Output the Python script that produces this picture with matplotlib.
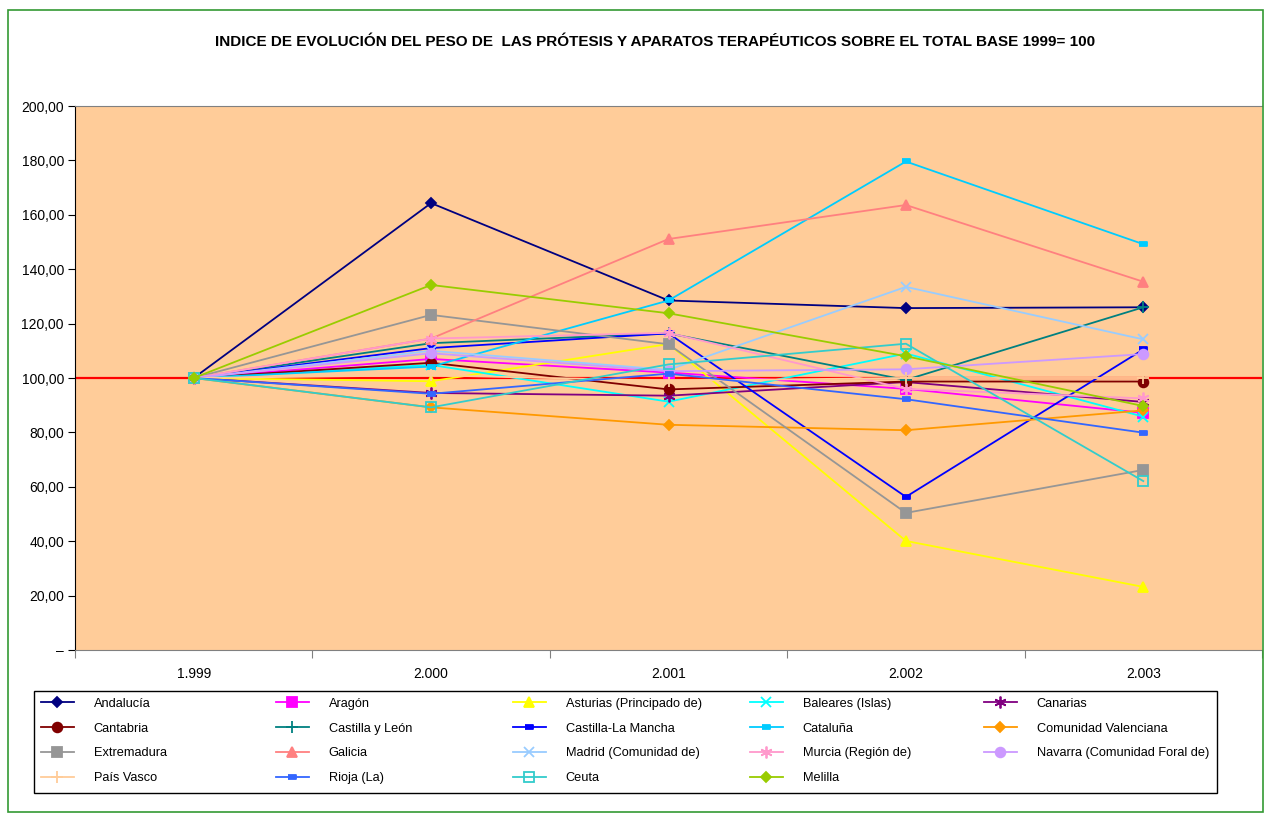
import matplotlib
matplotlib.use("Agg")
import matplotlib.pyplot as plt
from matplotlib.patches import Rectangle

plt.rcParams['font.family'] = ['Liberation Sans', 'DejaVu Sans']

# datos (indice base 1999 = 100)
years = ["1.999", "2.000", "2.001", "2.002", "2.003"]

andalucia = [100, 164.3, 128.5, 125.7, 126.0]
aragon = [100, 107.0, 102.0, 96.0, 87.2]
asturias = [100, 98.8, 112.5, 40.1, 23.2]
baleares = [100, 104.8, 91.3, 109.0, 85.8]
canarias = [100, 94.5, 93.5, 98.5, 91.2]
cantabria = [100, 105.6, 95.8, 98.7, 98.7]
castilla_leon = [100, 112.8, 116.4, 99.3, 126.0]
castilla_mancha = [100, 111.0, 116.4, 56.3, 110.5]
cataluna = [100, 104.2, 128.5, 179.6, 149.2]
valenciana = [100, 89.2, 82.8, 80.8, 88.1]
extremadura = [100, 123.2, 112.4, 50.4, 66.2]
galicia = [100, 114.5, 151.1, 163.6, 135.4]
madrid = [100, 110.0, 103.0, 133.5, 114.2]
murcia = [100, 114.5, 116.6, 96.0, 92.5]
navarra = [100, 109.1, 102.5, 103.2, 108.8]
pais_vasco = [100, 101.0, 99.0, 100.0, 100.0]
rioja = [100, 94.2, 101.6, 92.2, 79.9]
ceuta = [100, 89.2, 105.0, 112.6, 62.1]
melilla = [100, 134.2, 123.8, 108.0, 89.7]

series = [
    ("Andalucía", andalucia),
    ("Aragón", aragon),
    ("Asturias (Principado de)", asturias),
    ("Baleares (Islas)", baleares),
    ("Canarias", canarias),
    ("Cantabria", cantabria),
    ("Castilla y León", castilla_leon),
    ("Castilla-La Mancha", castilla_mancha),
    ("Cataluña", cataluna),
    ("Comunidad Valenciana", valenciana),
    ("Extremadura", extremadura),
    ("Galicia", galicia),
    ("Madrid (Comunidad de)", madrid),
    ("Murcia (Región de)", murcia),
    ("Navarra (Comunidad Foral de)", navarra),
    ("País Vasco", pais_vasco),
    ("Rioja (La)", rioja),
    ("Ceuta", ceuta),
    ("Melilla", melilla),
]

dash = [(-1, -0.45), (1, -0.45), (1, 0.45), (-1, 0.45)]
star = (6, 2, 0)
# color, marcador, tamaño, relleno
styles = [
    ("#000080", "D", 5.5, None),
    ("#FF00FF", "s", 6.5, None),
    ("#FFFF00", "^", 7.5, None),
    ("#00FFFF", "x", 7.5, None),
    ("#800080", star, 8.5, None),
    ("#800000", "o", 7, None),
    ("#008080", "+", 8.5, None),
    ("#0000FF", dash, 5.5, None),
    ("#00CCFF", dash, 5.5, None),
    ("#FF9900", "D", 5.5, None),
    ("#969696", "s", 6.5, None),
    ("#FF8080", "^", 7.5, None),
    ("#99CCFF", "x", 7.5, None),
    ("#FF99CC", star, 8.5, None),
    ("#CC99FF", "o", 7, None),
    ("#FFCC99", "+", 8.5, None),
    ("#3366FF", dash, 5.5, None),
    ("#33CCCC", "s", 6.5, "none"),
    ("#99CC00", "D", 5.5, None),
]

fig = plt.figure(figsize=(12.65, 8.18), dpi=100)
W, H = 1265, 818

# borde verde exterior
fig.patches.append(Rectangle((8 / W, 1 - 812 / H), 1255 / W, 802 / H,
                             transform=fig.transFigure, fill=False,
                             edgecolor="#339933", lw=1.2))

ax = fig.add_axes([75 / W, 1 - 650 / H, 1187 / W, 544 / H])
ax.set_facecolor("#FFCC99")

x = list(range(len(years)))
handles = []
for (name, vals), (col, mk, ms, fc) in zip(series, styles):
    h, = ax.plot(x, vals, color=col, lw=1.3, marker=mk, ms=ms,
                 mfc=col if fc is None else fc, mec=col, mew=1.3,
                 label=name, zorder=3)
    handles.append(h)

ax.axhline(100, color="#FF0000", lw=1.6, zorder=2)

ax.set_xlim(-0.5, len(years) - 0.5)
ax.set_ylim(0, 200)
ax.set_yticks(range(0, 201, 20))
ax.set_yticklabels(["–" if v == 0 else f"{v:.2f}".replace(".", ",")
                    for v in range(0, 201, 20)], fontsize=10)
ax.set_xticks([i - 0.5 for i in range(len(years) + 1)])
ax.set_xticklabels([])
ax.set_xticks(x, minor=True)
ax.set_xticklabels(years, minor=True, fontsize=10)
ax.tick_params(axis="x", which="major", length=6, direction="out", color="#808080")
ax.tick_params(axis="x", which="minor", length=0, pad=12)
ax.tick_params(axis="y", length=5, direction="out", pad=3)

ax.spines["top"].set_color("#808080")
ax.spines["right"].set_visible(False)
ax.spines["left"].set_color("black")
ax.spines["bottom"].set_color("#808080")

fig.text(655 / W, 1 - 42 / H,
         "INDICE DE EVOLUCIÓN DEL PESO DE  LAS PRÓTESIS Y APARATOS TERAPÉUTICOS SOBRE EL TOTAL BASE 1999= 100",
         ha="center", va="center", fontsize=11, fontweight="bold")

# leyenda: marco y cinco columnas colocadas a mano (orden por filas)
fig.patches.append(Rectangle((34 / W, 1 - 793 / H), 1183 / W, 102 / H,
                             transform=fig.transFigure, fill=False,
                             edgecolor="black", lw=1.0))
col_x = [37, 272, 509, 746, 980]
for j, cx in enumerate(col_x):
    hs = handles[j::5]
    fig.legend(hs, [h.get_label() for h in hs], loc="upper left",
               bbox_to_anchor=(cx / W, 1 - 694 / H), frameon=False,
               fontsize=9.2, handlelength=2.6, handletextpad=1.55,
               labelspacing=1.0, borderpad=0.3, borderaxespad=0)

fig.savefig("out.png", dpi=100)
